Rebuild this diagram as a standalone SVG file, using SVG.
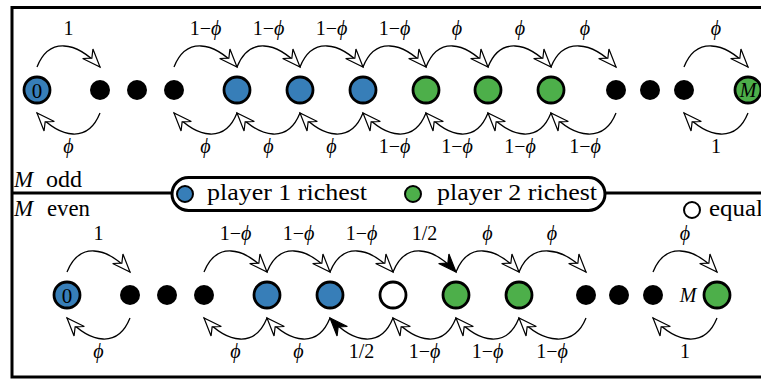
<svg xmlns="http://www.w3.org/2000/svg" width="761" height="380" viewBox="0 0 761 380">
<defs>
<style>
.node{stroke:#000;stroke-width:2.8}
.blue{fill:#377eb8}
.green{fill:#4daf4a}
.white{fill:#fff}
.dot{fill:#000}
.arc{fill:none;stroke:#000;stroke-width:1.3}
.open{marker-end:url(#ao)}
.full{marker-end:url(#af)}
.lbl{font-family:"Liberation Serif","DejaVu Serif",serif;font-size:20px;fill:#000;text-anchor:middle}
.ph{font-family:"Liberation Serif","DejaVu Serif",serif;font-style:italic;font-size:20px}
.txt{font-family:"Liberation Serif","DejaVu Serif",serif;font-size:23px;fill:#000}
.it{font-style:italic}
</style>
<marker id="ao" markerUnits="userSpaceOnUse" orient="auto" overflow="visible" markerWidth="1" markerHeight="1" refX="0" refY="0">
<path d="M0,0 L-18,-7 L-12,0 L-18,7 Z" fill="#fff" stroke="#000" stroke-width="1.2" stroke-linejoin="miter"/>
</marker>
<marker id="af" markerUnits="userSpaceOnUse" orient="auto" overflow="visible" markerWidth="1" markerHeight="1" refX="0" refY="0">
<path d="M0,0 L-18,-7 L-12,0 L-18,7 Z" fill="#000" stroke="#000" stroke-width="1.2" stroke-linejoin="miter"/>
</marker>
</defs>
<rect width="761" height="380" fill="#fff"/>
<g id="frame">
<rect x="12" y="7.5" width="800" height="369.5" fill="none" stroke="#000" stroke-width="3"/>
<line x1="12" y1="193" x2="172" y2="193" stroke="#000" stroke-width="3"/>
<line x1="605" y1="193" x2="761" y2="193" stroke="#000" stroke-width="3"/>
<text class="txt" x="14" y="187"><tspan class="it">M</tspan></text>
<text class="txt" x="46" y="187" textLength="36" lengthAdjust="spacingAndGlyphs">odd</text>
<text class="txt" x="14" y="216"><tspan class="it">M</tspan></text>
<text class="txt" x="47" y="216" textLength="43" lengthAdjust="spacingAndGlyphs">even</text>
</g>
<g id="legend">
<rect x="172" y="177.5" width="433" height="33" rx="16.5" fill="#fff" stroke="#000" stroke-width="3"/>
<circle cx="185" cy="194" r="8" class="blue" stroke="#000" stroke-width="2"/>
<text class="txt" x="207" y="200" textLength="160" lengthAdjust="spacingAndGlyphs">player 1 richest</text>
<circle cx="413" cy="194" r="8" class="green" stroke="#000" stroke-width="2"/>
<text class="txt" x="437" y="200" textLength="160" lengthAdjust="spacingAndGlyphs">player 2 richest</text>
</g>
<g id="legend-equal">
<circle cx="692" cy="210" r="8" fill="#fff" stroke="#000" stroke-width="2"/>
<text class="txt" x="709" y="216" textLength="54" lengthAdjust="spacingAndGlyphs">equal</text>
</g>
<g id="connectors">
<path class="arc open" d="M37,67 C49,37 76,41 100,67"/>
<path class="arc open" d="M174,67 C186,37 213,41 237,67"/>
<path class="arc open" d="M237,67 C249,37 276,41 300,67"/>
<path class="arc open" d="M300,67 C312,37 339,41 363,67"/>
<path class="arc open" d="M363,67 C375,37 402,41 426,67"/>
<path class="arc open" d="M426,67 C438,37 464,41 488,67"/>
<path class="arc open" d="M488,67 C500,37 527,41 551,67"/>
<path class="arc open" d="M551,67 C563,37 592,41 616,67"/>
<path class="arc open" d="M684,67 C696,37 724,41 748,67"/>
<path class="arc open" d="M100,113 C88,143 61,139 37,113"/>
<path class="arc open" d="M237,113 C225,143 198,139 174,113"/>
<path class="arc open" d="M300,113 C288,143 261,139 237,113"/>
<path class="arc open" d="M363,113 C351,143 324,139 300,113"/>
<path class="arc open" d="M426,113 C414,143 387,139 363,113"/>
<path class="arc open" d="M488,113 C476,143 450,139 426,113"/>
<path class="arc open" d="M551,113 C539,143 512,139 488,113"/>
<path class="arc open" d="M616,113 C604,143 575,139 551,113"/>
<path class="arc open" d="M748,113 C736,143 708,139 684,113"/>
<path class="arc open" d="M67,272 C79,242 106,246 130,272"/>
<path class="arc open" d="M204,272 C216,242 243,246 267,272"/>
<path class="arc open" d="M267,272 C279,242 306,246 330,272"/>
<path class="arc open" d="M330,272 C342,242 369,246 393,272"/>
<path class="arc full" d="M393,272 C405,242 432,246 456,272"/>
<path class="arc open" d="M456,272 C468,242 495,246 519,272"/>
<path class="arc open" d="M519,272 C531,242 562,246 586,272"/>
<path class="arc open" d="M653,272 C665,242 693,246 717,272"/>
<path class="arc open" d="M130,318 C118,348 91,344 67,318"/>
<path class="arc open" d="M267,318 C255,348 228,344 204,318"/>
<path class="arc open" d="M330,318 C318,348 291,344 267,318"/>
<path class="arc full" d="M393,318 C381,348 354,344 330,318"/>
<path class="arc open" d="M456,318 C444,348 417,344 393,318"/>
<path class="arc open" d="M519,318 C507,348 480,344 456,318"/>
<path class="arc open" d="M586,318 C574,348 543,344 519,318"/>
<path class="arc open" d="M717,318 C705,348 677,344 653,318"/>
<text class="lbl" x="68.5" y="35">1</text>
<text class="lbl" x="205.5" y="35">1−<tspan class="ph">ϕ</tspan></text>
<text class="lbl" x="268.5" y="35">1−<tspan class="ph">ϕ</tspan></text>
<text class="lbl" x="331.5" y="35">1−<tspan class="ph">ϕ</tspan></text>
<text class="lbl" x="394.5" y="35">1−<tspan class="ph">ϕ</tspan></text>
<text class="lbl" x="457" y="35"><tspan class="ph">ϕ</tspan></text>
<text class="lbl" x="520" y="35"><tspan class="ph">ϕ</tspan></text>
<text class="lbl" x="585" y="35"><tspan class="ph">ϕ</tspan></text>
<text class="lbl" x="716" y="35"><tspan class="ph">ϕ</tspan></text>
<text class="lbl" x="68.5" y="153"><tspan class="ph">ϕ</tspan></text>
<text class="lbl" x="205.5" y="153"><tspan class="ph">ϕ</tspan></text>
<text class="lbl" x="268.5" y="153"><tspan class="ph">ϕ</tspan></text>
<text class="lbl" x="331.5" y="153"><tspan class="ph">ϕ</tspan></text>
<text class="lbl" x="394.5" y="153">1−<tspan class="ph">ϕ</tspan></text>
<text class="lbl" x="457" y="153">1−<tspan class="ph">ϕ</tspan></text>
<text class="lbl" x="520" y="153">1−<tspan class="ph">ϕ</tspan></text>
<text class="lbl" x="585" y="153">1−<tspan class="ph">ϕ</tspan></text>
<text class="lbl" x="716" y="153">1</text>
<text class="lbl" x="98.5" y="240">1</text>
<text class="lbl" x="235.5" y="240">1−<tspan class="ph">ϕ</tspan></text>
<text class="lbl" x="298.5" y="240">1−<tspan class="ph">ϕ</tspan></text>
<text class="lbl" x="361.5" y="240">1−<tspan class="ph">ϕ</tspan></text>
<text class="lbl" x="424.5" y="240">1/2</text>
<text class="lbl" x="487.5" y="240"><tspan class="ph">ϕ</tspan></text>
<text class="lbl" x="552" y="240"><tspan class="ph">ϕ</tspan></text>
<text class="lbl" x="685" y="240"><tspan class="ph">ϕ</tspan></text>
<text class="lbl" x="98.5" y="358"><tspan class="ph">ϕ</tspan></text>
<text class="lbl" x="235.5" y="358"><tspan class="ph">ϕ</tspan></text>
<text class="lbl" x="298.5" y="358"><tspan class="ph">ϕ</tspan></text>
<text class="lbl" x="361.5" y="358">1/2</text>
<text class="lbl" x="424.5" y="358">1−<tspan class="ph">ϕ</tspan></text>
<text class="lbl" x="487.5" y="358">1−<tspan class="ph">ϕ</tspan></text>
<text class="lbl" x="552" y="358">1−<tspan class="ph">ϕ</tspan></text>
<text class="lbl" x="685" y="358">1</text>
</g>
<g id="odd-0"><circle class="node blue" cx="37" cy="90" r="13"/><text class="lbl" x="37" y="97.5" style="font-size:21px">0</text></g>
<g id="odd-d1"><circle class="dot" cx="100" cy="90" r="10"/></g>
<g id="odd-d2"><circle class="dot" cx="137" cy="90" r="10"/></g>
<g id="odd-d3"><circle class="dot" cx="174" cy="90" r="10"/></g>
<g id="odd-b1"><circle class="node blue" cx="237" cy="90" r="13"/></g>
<g id="odd-b2"><circle class="node blue" cx="300" cy="90" r="13"/></g>
<g id="odd-b3"><circle class="node blue" cx="363" cy="90" r="13"/></g>
<g id="odd-g1"><circle class="node green" cx="426" cy="90" r="13"/></g>
<g id="odd-g2"><circle class="node green" cx="488" cy="90" r="13"/></g>
<g id="odd-g3"><circle class="node green" cx="551" cy="90" r="13"/></g>
<g id="odd-d4"><circle class="dot" cx="616" cy="90" r="10"/></g>
<g id="odd-d5"><circle class="dot" cx="650" cy="90" r="10"/></g>
<g id="odd-d6"><circle class="dot" cx="684" cy="90" r="10"/></g>
<g id="odd-M"><circle class="node green" cx="748" cy="90" r="13"/><text class="lbl it" x="748" y="97">M</text></g>
<g id="even-0"><circle class="node blue" cx="67" cy="295" r="13"/><text class="lbl" x="67" y="302.5" style="font-size:21px">0</text></g>
<g id="even-d1"><circle class="dot" cx="130" cy="295" r="10"/></g>
<g id="even-d2"><circle class="dot" cx="167" cy="295" r="10"/></g>
<g id="even-d3"><circle class="dot" cx="204" cy="295" r="10"/></g>
<g id="even-b1"><circle class="node blue" cx="267" cy="295" r="13"/></g>
<g id="even-b2"><circle class="node blue" cx="330" cy="295" r="13"/></g>
<g id="even-eq"><circle class="node white" cx="393" cy="295" r="13"/></g>
<g id="even-g1"><circle class="node green" cx="456" cy="295" r="13"/></g>
<g id="even-g2"><circle class="node green" cx="519" cy="295" r="13"/></g>
<g id="even-d4"><circle class="dot" cx="586" cy="295" r="10"/></g>
<g id="even-d5"><circle class="dot" cx="619" cy="295" r="10"/></g>
<g id="even-d6"><circle class="dot" cx="653" cy="295" r="10"/></g>
<g id="even-M"><circle class="node green" cx="717" cy="295" r="13"/><text class="lbl it" x="688" y="302">M</text></g>
</svg>
